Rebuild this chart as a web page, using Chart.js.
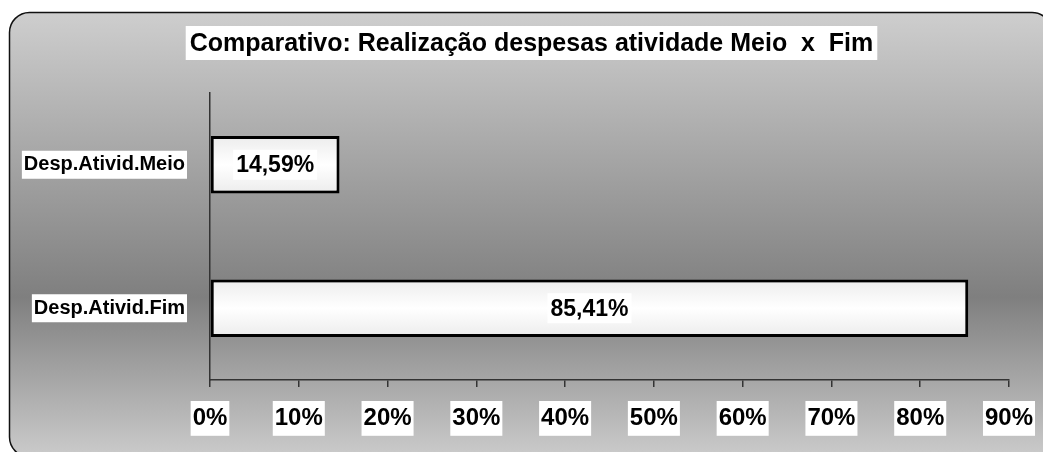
<!DOCTYPE html>
<html>
<head>
<meta charset="utf-8">
<script src="https://cdn.jsdelivr.net/npm/chart.js@4.4.0/dist/chart.umd.min.js"></script>
<style>
    html, body { margin: 0; padding: 0; background: #ffffff; }
    #wrap { width: 1043px; height: 452px; }
</style>
</head>
<body>
<div id="wrap"><canvas id="chart"></canvas></div>
<script>
const chartTitle = 'Comparativo: Realização despesas atividade Meio  x  Fim';
const categories = ['Desp.Ativid.Meio', 'Desp.Ativid.Fim'];
const shares = [14.59, 85.41];
const axisMin = 0;
const axisMax = 90;
const axisStep = 10;

const fontFamily = 'Arial, "Liberation Sans", Helvetica, sans-serif';

function pctLabel(v) {
    return v.toFixed(2).replace('.', ',') + '%';
}

// fundo cinza com moldura arredondada
const frameBackground = {
    id: 'frameBackground',
    beforeDraw(chart) {
        const { ctx, width, height } = chart;
        ctx.save();
        ctx.fillStyle = '#ffffff';
        ctx.fillRect(0, 0, width, height);

        const x0 = 9.5, y0 = 12.5, x1 = 1052, y1 = 457, r = 20;
        const grad = ctx.createLinearGradient(0, y0, 0, y1);
        grad.addColorStop(0, '#cecece');
        grad.addColorStop(0.64, '#7f7f7f');
        grad.addColorStop(1, '#cbcbcb');

        ctx.beginPath();
        ctx.roundRect(x0, y0, x1 - x0, y1 - y0, r);
        ctx.fillStyle = grad;
        ctx.fill();
        ctx.lineWidth = 1.5;
        ctx.strokeStyle = '#111111';
        ctx.stroke();
        ctx.restore();
    }
};

// título com caixa branca
const titleBox = {
    id: 'titleBox',
    afterDraw(chart) {
        const { ctx, width } = chart;
        ctx.save();
        ctx.font = 'bold 25px ' + fontFamily;
        const w = ctx.measureText(chartTitle).width;
        const cx = width / 2 + 10;
        const cy = 43;
        ctx.fillStyle = '#ffffff';
        ctx.fillRect(cx - w / 2 - 4, cy - 17, w + 8, 34);
        ctx.fillStyle = '#000000';
        ctx.textAlign = 'center';
        ctx.textBaseline = 'middle';
        ctx.fillText(chartTitle, cx, cy + 1);
        ctx.restore();
    }
};

// rótulos de valor dentro das barras
const valueLabels = {
    id: 'valueLabels',
    afterDatasetsDraw(chart) {
        const { ctx } = chart;
        const meta = chart.getDatasetMeta(0);
        ctx.save();
        ctx.font = 'bold 23px ' + fontFamily;
        ctx.textAlign = 'center';
        ctx.textBaseline = 'middle';
        meta.data.forEach((bar, i) => {
            const text = pctLabel(shares[i]);
            const cx = (bar.x + bar.base) / 2;
            const cy = bar.y;
            const w = ctx.measureText(text).width;
            ctx.fillStyle = '#ffffff';
            ctx.fillRect(cx - w / 2 - 3, cy - 15, w + 6, 30);
            ctx.fillStyle = '#000000';
            ctx.fillText(text, cx, cy + 1);
        });
        ctx.restore();
    }
};

new Chart(document.getElementById('chart'), {
    type: 'bar',
    data: {
        labels: categories,
        datasets: [{
            data: shares,
            backgroundColor: function(context) {
                const chart = context.chart;
                const y = chart.scales.y;
                if (!y || !chart.chartArea) return '#f8f8f8';
                const c = y.getPixelForValue(context.dataIndex);
                const g = chart.ctx.createLinearGradient(0, c - 29, 0, c + 29);
                g.addColorStop(0, '#ececec');
                g.addColorStop(0.5, '#ffffff');
                g.addColorStop(1, '#ececec');
                return g;
            },
            borderColor: '#000000',
            borderWidth: 3,
            borderSkipped: false,
            barPercentage: 0.4,
            categoryPercentage: 1.0
        }]
    },
    options: {
        indexAxis: 'y',
        responsive: true,
        maintainAspectRatio: false,
        animation: false,
        layout: {
            padding: { top: 93, right: 34, bottom: 0, left: 0 }
        },
        plugins: {
            legend: { display: false },
            title: { display: false },
            tooltip: { enabled: false }
        },
        scales: {
            x: {
                min: axisMin,
                max: axisMax,
                afterFit: (scale) => {
                    scale.height = 72;
                    scale.paddingLeft = 0;
                    scale.paddingRight = 0;
                },
                ticks: {
                    stepSize: axisStep,
                    callback: (v) => v + '%',
                    color: '#000000',
                    font: { family: fontFamily, size: 24, weight: 'bold' },
                    padding: 17,
                    maxRotation: 0,
                    showLabelBackdrop: true,
                    backdropColor: '#ffffff',
                    backdropPadding: { top: 3, bottom: 3, left: 2, right: 2 }
                },
                grid: {
                    display: true,
                    drawOnChartArea: false,
                    drawTicks: true,
                    tickLength: 7,
                    color: '#333333',
                    lineWidth: 1.5
                },
                border: { display: true, color: '#333333', width: 1.5 }
            },
            y: {
                afterFit: (scale) => { scale.width = 210; },
                ticks: {
                    color: '#000000',
                    font: { family: fontFamily, size: 20, weight: 'bold' },
                    padding: 17,
                    showLabelBackdrop: true,
                    backdropColor: '#ffffff',
                    backdropPadding: { top: 2, bottom: 2, left: 2, right: 2 }
                },
                grid: { display: false },
                border: { display: true, color: '#333333', width: 1.5 }
            }
        }
    },
    plugins: [frameBackground, titleBox, valueLabels]
});
</script>
</body>
</html>
